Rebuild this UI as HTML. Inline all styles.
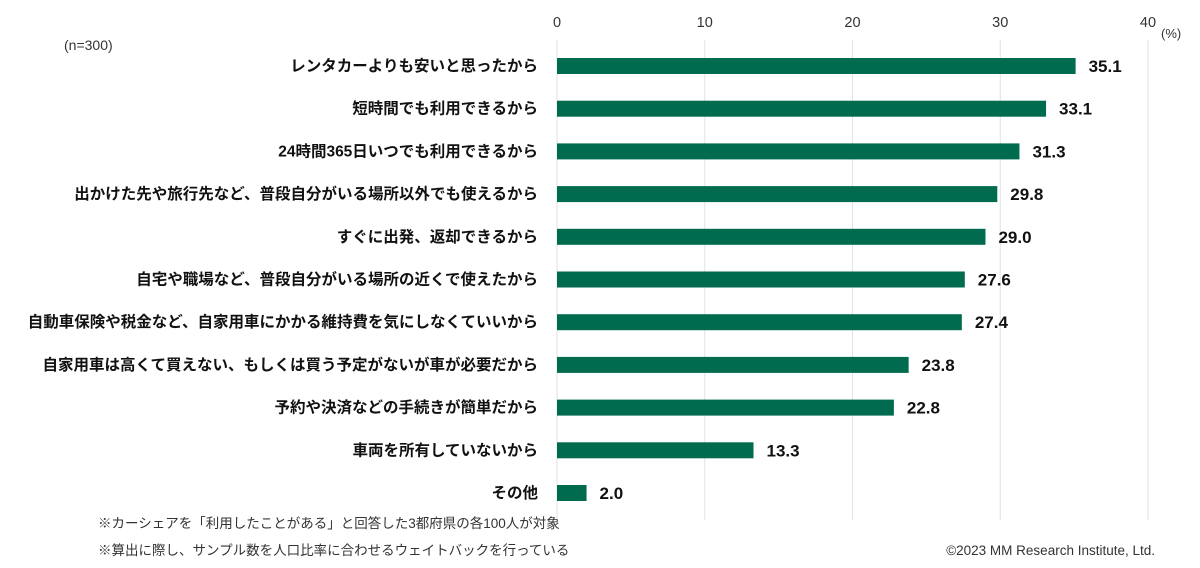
<!DOCTYPE html>
<html><head><meta charset="utf-8"><style>
html,body{margin:0;padding:0;background:#fff;}
svg{display:block;font-family:"Liberation Sans","Noto Sans CJK JP",sans-serif;}
</style></head><body>
<svg id="chart" width="1200" height="568" viewBox="0 0 1200 568"></svg>
<script>
const categories=["レンタカーよりも安いと思ったから","短時間でも利用できるから","24時間365日いつでも利用できるから","出かけた先や旅行先など、普段自分がいる場所以外でも使えるから","すぐに出発、返却できるから","自宅や職場など、普段自分がいる場所の近くで使えたから","自動車保険や税金など、自家用車にかかる維持費を気にしなくていいから","自家用車は高くて買えない、もしくは買う予定がないが車が必要だから","予約や決済などの手続きが簡単だから","車両を所有していないから","その他"];
const values=[35.1,33.1,31.3,29.8,29.0,27.6,27.4,23.8,22.8,13.3,2.0];
const labels=["35.1","33.1","31.3","29.8","29.0","27.6","27.4","23.8","22.8","13.3","2.0"];
const ticks=[0,10,20,30,40];
const NS="http://www.w3.org/2000/svg";
const svg=document.getElementById('chart');
const x0=557,x1=1148,vmax=40;
const xs=v=>x0+(x1-x0)*v/vmax;
const rowY=i=>66+i*42.7;
function mk(t,a){const e=document.createElementNS(NS,t);for(const k in a)e.setAttribute(k,a[k]);svg.appendChild(e);return e;}
ticks.forEach(t=>{
  const g=mk('line',{x1:xs(t),x2:xs(t),y1:40,y2:520,stroke:'#e2e2e2','stroke-width':1});
  
  
  const tl=mk('text',{x:xs(t),y:27,'text-anchor':'middle','font-size':14.5,fill:'#333'});
  tl.textContent=t;
  
  
});
const pct=mk('text',{x:1161,y:38,'font-size':13,fill:'#333'});pct.textContent='(%)';


const n=mk('text',{x:64,y:50,'font-size':14,fill:'#333'});n.textContent='(n=300)';


categories.forEach((c,i)=>{
  const y=rowY(i);
  const l=mk('text',{x:538,y:y+5,'text-anchor':'end','font-size':15.5,'font-weight':'bold',fill:'#111'});
  l.textContent=c;
  
  
  const b=mk('rect',{x:xs(0),y:y-8,width:xs(values[i])-xs(0),height:16,fill:'#006b4e'});
  
  
  const v=mk('text',{x:xs(values[i])+13,y:y+6,'font-size':17,'font-weight':'bold',fill:'#111'});
  v.textContent=labels[i];
  
  
});
const f1=mk('text',{x:98,y:528,'font-size':13.5,fill:'#333'});f1.textContent='※カーシェアを「利用したことがある」と回答した3都府県の各100人が対象';


const f2=mk('text',{x:98,y:555,'font-size':13.5,fill:'#333'});f2.textContent='※算出に際し、サンプル数を人口比率に合わせるウェイトバックを行っている';


const cp=mk('text',{x:1155,y:555,'text-anchor':'end','font-size':13.5,fill:'#333'});cp.textContent='©2023 MM Research Institute, Ltd.';


</script>
</body></html>
